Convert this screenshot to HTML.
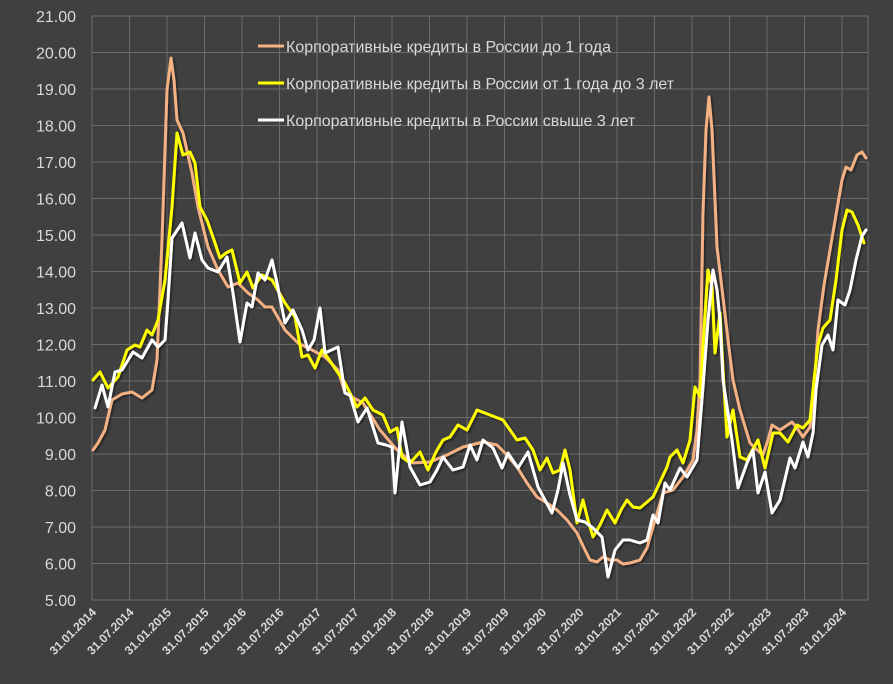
<!DOCTYPE html>
<html><head><meta charset="utf-8"><style>
html,body{margin:0;padding:0;background:#404040;}
svg{display:block;font-family:"Liberation Sans","DejaVu Sans",sans-serif;}
</style></head><body>
<svg width="893" height="684" viewBox="0 0 893 684" xmlns="http://www.w3.org/2000/svg">
<defs><filter id="sh" x="-5%" y="-5%" width="110%" height="110%"><feDropShadow dx="1.5" dy="1.5" stdDeviation="1" flood-color="#000" flood-opacity="0.5"/></filter></defs>
<rect width="893" height="684" fill="#404040"/>
<g stroke="#6b6b6b" stroke-width="1">
<line x1="92" y1="16" x2="868" y2="16"/><line x1="92" y1="52.5" x2="868" y2="52.5"/><line x1="92" y1="89" x2="868" y2="89"/><line x1="92" y1="125.5" x2="868" y2="125.5"/><line x1="92" y1="162" x2="868" y2="162"/><line x1="92" y1="198.5" x2="868" y2="198.5"/><line x1="92" y1="235" x2="868" y2="235"/><line x1="92" y1="271.5" x2="868" y2="271.5"/><line x1="92" y1="308" x2="868" y2="308"/><line x1="92" y1="344.5" x2="868" y2="344.5"/><line x1="92" y1="381" x2="868" y2="381"/><line x1="92" y1="417.5" x2="868" y2="417.5"/><line x1="92" y1="454" x2="868" y2="454"/><line x1="92" y1="490.5" x2="868" y2="490.5"/><line x1="92" y1="527" x2="868" y2="527"/><line x1="92" y1="563.5" x2="868" y2="563.5"/><line x1="92" y1="600" x2="868" y2="600"/>
<line x1="92" y1="16" x2="92" y2="600"/><line x1="129.5" y1="16" x2="129.5" y2="600"/><line x1="167" y1="16" x2="167" y2="600"/><line x1="204.5" y1="16" x2="204.5" y2="600"/><line x1="242" y1="16" x2="242" y2="600"/><line x1="279.5" y1="16" x2="279.5" y2="600"/><line x1="317" y1="16" x2="317" y2="600"/><line x1="354.5" y1="16" x2="354.5" y2="600"/><line x1="392" y1="16" x2="392" y2="600"/><line x1="429.5" y1="16" x2="429.5" y2="600"/><line x1="467" y1="16" x2="467" y2="600"/><line x1="504.5" y1="16" x2="504.5" y2="600"/><line x1="542" y1="16" x2="542" y2="600"/><line x1="579.5" y1="16" x2="579.5" y2="600"/><line x1="617" y1="16" x2="617" y2="600"/><line x1="654.5" y1="16" x2="654.5" y2="600"/><line x1="692" y1="16" x2="692" y2="600"/><line x1="729.5" y1="16" x2="729.5" y2="600"/><line x1="767" y1="16" x2="767" y2="600"/><line x1="804.5" y1="16" x2="804.5" y2="600"/><line x1="842" y1="16" x2="842" y2="600"/><line x1="868" y1="16" x2="868" y2="600"/>
</g>
<g fill="#d9d9d9" font-size="16" text-anchor="end">
<text x="76" y="22">21.00</text><text x="76" y="58.5">20.00</text><text x="76" y="95">19.00</text><text x="76" y="131.5">18.00</text><text x="76" y="168">17.00</text><text x="76" y="204.5">16.00</text><text x="76" y="241">15.00</text><text x="76" y="277.5">14.00</text><text x="76" y="314">13.00</text><text x="76" y="350.5">12.00</text><text x="76" y="387">11.00</text><text x="76" y="423.5">10.00</text><text x="76" y="460">9.00</text><text x="76" y="496.5">8.00</text><text x="76" y="533">7.00</text><text x="76" y="569.5">6.00</text><text x="76" y="606">5.00</text>
</g>
<g fill="#d9d9d9" font-size="12" font-weight="bold" text-anchor="end">
<text transform="translate(97,613) rotate(-45)">31.01.2014</text>
<text transform="translate(134.5,613) rotate(-45)">31.07.2014</text>
<text transform="translate(172,613) rotate(-45)">31.01.2015</text>
<text transform="translate(209.5,613) rotate(-45)">31.07.2015</text>
<text transform="translate(247,613) rotate(-45)">31.01.2016</text>
<text transform="translate(284.5,613) rotate(-45)">31.07.2016</text>
<text transform="translate(322,613) rotate(-45)">31.01.2017</text>
<text transform="translate(359.5,613) rotate(-45)">31.07.2017</text>
<text transform="translate(397,613) rotate(-45)">31.01.2018</text>
<text transform="translate(434.5,613) rotate(-45)">31.07.2018</text>
<text transform="translate(472,613) rotate(-45)">31.01.2019</text>
<text transform="translate(509.5,613) rotate(-45)">31.07.2019</text>
<text transform="translate(547,613) rotate(-45)">31.01.2020</text>
<text transform="translate(584.5,613) rotate(-45)">31.07.2020</text>
<text transform="translate(622,613) rotate(-45)">31.01.2021</text>
<text transform="translate(659.5,613) rotate(-45)">31.07.2021</text>
<text transform="translate(697,613) rotate(-45)">31.01.2022</text>
<text transform="translate(734.5,613) rotate(-45)">31.07.2022</text>
<text transform="translate(772,613) rotate(-45)">31.01.2023</text>
<text transform="translate(809.5,613) rotate(-45)">31.07.2023</text>
<text transform="translate(847,613) rotate(-45)">31.01.2024</text>
</g>
<g fill="none" stroke-width="3" stroke-linejoin="round" stroke-linecap="round" filter="url(#sh)">
<polyline stroke="#f4b183" points="93,450 98,443 105,430 112,400 122,394 132,392 142,398 152,390 157,360 162,240 167,90 171,58 174,80 177,120 183,133 192,173 198,207 208,247 218,270 228,287 238,283 248,293 258,300 265,307 272,307 285,330 298,343 312,350 325,357 338,370 345,393 363,403 380,430 397,450 413,463 430,462 447,455 463,447 483,442 497,445 507,455 517,467 527,483 537,497 547,503 557,510 567,520 577,533 584,548 590,560 597,562 603,557 610,560 617,560 623,564 630,563 640,560 647,548 653,527 658,510 663,493 673,490 683,477 693,460 697,430 700,380 703,213 706,130 709,97 712,130 717,247 723,297 728,340 733,380 740,410 750,443 757,450 763,455 768,440 772,425 780,430 786,426 792,422 797,428 803,437 810,427 814,390 818,330 824,285 830,250 836,215 842,180 846,167 851,170 857,155 862,152 866,158"/>
<polyline stroke="#ffff00" points="93,380 100,372 108,388 118,377 127,350 135,345 140,347 147,330 152,335 158,320 165,280 172,207 177,133 183,155 190,152 195,163 200,207 207,220 214,240 220,258 226,253 232,250 240,283 247,272 253,288 262,275 272,280 285,303 295,317 302,357 308,355 315,368 322,350 328,358 338,373 345,383 357,407 365,398 373,410 383,415 390,432 397,428 402,457 410,463 420,452 428,470 436,452 443,440 450,437 458,425 467,430 477,410 490,415 503,420 510,430 517,440 525,438 533,450 540,470 547,458 553,473 560,470 565,450 570,470 577,523 583,500 588,520 593,537 600,525 607,510 615,523 621,510 627,500 633,507 640,508 653,497 667,467 670,457 677,450 683,463 690,440 695,387 700,397 704,330 708,270 712,287 715,353 720,313 723,370 727,437 733,410 740,457 747,460 758,440 765,468 773,433 780,433 788,442 797,425 803,428 810,420 814,380 818,345 823,328 830,320 836,280 842,230 847,210 852,212 858,225 864,243"/>
<polyline stroke="#ffffff" points="95,408 102,385 108,407 115,372 122,370 133,352 142,358 152,340 158,347 165,340 168,300 172,238 182,223 190,258 195,233 202,260 208,268 218,272 227,257 233,293 240,342 247,303 252,307 258,273 265,280 272,260 277,283 285,323 293,310 302,330 308,350 314,340 320,308 325,353 338,347 345,393 350,395 358,422 367,408 378,443 386,445 392,447 395,493 402,422 410,467 420,485 430,482 437,470 443,457 453,470 463,467 470,445 477,460 483,440 493,448 502,468 508,453 518,468 528,452 538,487 545,500 552,513 558,490 563,463 570,495 577,520 585,522 593,528 602,537 608,577 615,550 623,540 630,540 640,543 647,540 653,515 658,523 665,483 670,490 680,468 687,477 697,460 703,387 708,320 713,270 717,290 720,320 723,380 732,440 738,488 747,463 753,450 758,493 765,472 772,513 780,500 790,458 795,468 803,442 808,457 813,433 816,390 822,345 828,335 833,350 838,300 845,305 850,290 856,260 862,236 866,230"/>
</g>
<g stroke-width="3">
<line x1="258" y1="46" x2="284" y2="46" stroke="#f4b183"/>
<line x1="258" y1="83" x2="284" y2="83" stroke="#ffff00"/>
<line x1="258" y1="120" x2="284" y2="120" stroke="#ffffff"/>
</g>
<g fill="#d9d9d9" font-size="16">
<text x="286" y="52">Корпоративные кредиты в России до 1 года</text>
<text x="286" y="89">Корпоративные кредиты в России от 1 года до 3 лет</text>
<text x="286" y="126">Корпоративные кредиты в России свыше 3 лет</text>
</g>
</svg>
</body></html>
